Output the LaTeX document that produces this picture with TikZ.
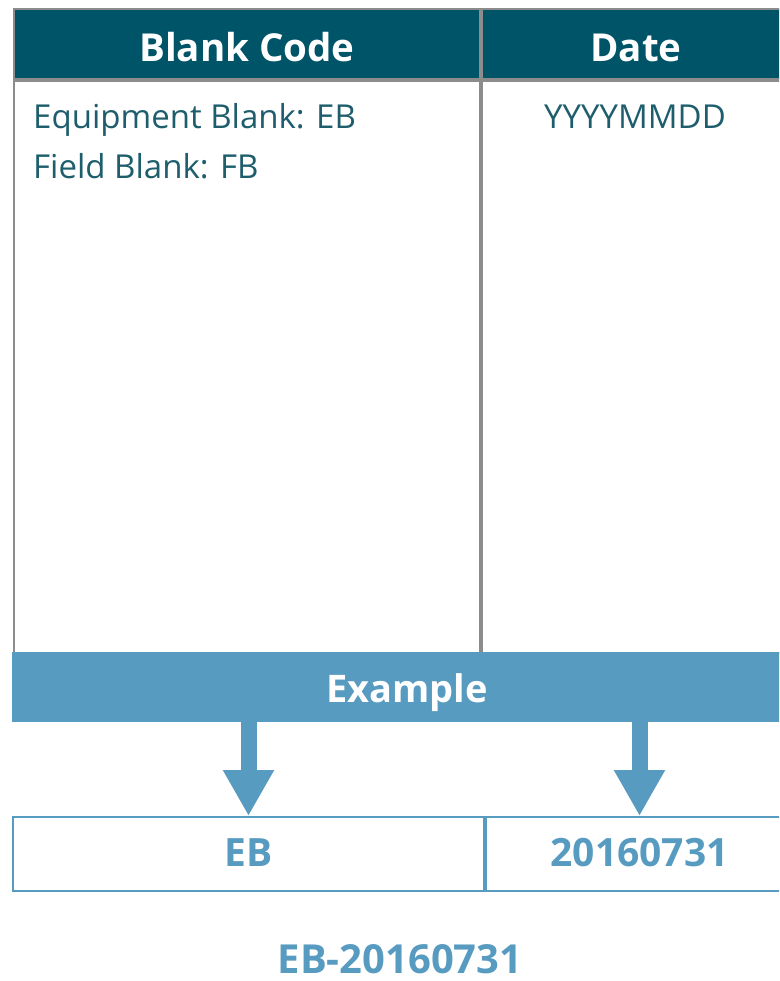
\documentclass[tikz,border=0pt]{standalone}
\usepackage{fontspec}
\setmainfont{Open Sans}
\usetikzlibrary{calc,positioning,arrows.meta}
\definecolor{headteal}{HTML}{005468}
\definecolor{exblue}{HTML}{589BC0}
\definecolor{bodytext}{HTML}{1E5E6C}
\definecolor{rulegray}{HTML}{8C8C8C}

\begin{document}
\begin{tikzpicture}[x=1pt,y=-1pt,
    headcell/.style={draw=rulegray, line width=2pt, fill=headteal, text=white,
      font=\fontsize{38.5}{46}\selectfont\bfseries, text height=36pt, text depth=0pt,
      minimum height=70pt, inner sep=0pt, anchor=north west},
    bodycell/.style={draw=rulegray, line width=2pt, minimum height=572pt, inner sep=0pt, anchor=north west},
    bodytxt/.style={text=bodytext, font=\fontsize{33}{40}\selectfont, inner sep=0pt},
    excell/.style={draw=exblue, line width=2pt, text=exblue,
      font=\fontsize{39}{46}\selectfont\bfseries, text height=24pt, text depth=0pt,
      minimum height=74pt, inner sep=0pt, anchor=north west},
    fatarrow/.style={draw=exblue, line width=16pt, -{Triangle[length=46pt,width=48pt]}}]
  \useasboundingbox (0,0) rectangle (779,981);
  \clip (0,0) rectangle (779,981);

  % table head
  \node[headcell, minimum width=466pt] (bchead) at (13,8) {Blank Code};
  \node[headcell, minimum width=308pt] (dthead) at (bchead.north east) {Date};

  % table body
  \node[bodycell, minimum width=466pt] (bcbody) at (bchead.south west) {};
  \node[bodycell, minimum width=308pt] (dtbody) at (bchead.south east) {};
  \node[bodytxt, anchor=base west] (eqblank) at ($(bcbody.north west)+(20,49)$) {Equipment Blank: EB};
  \node[bodytxt, anchor=base west] (fdblank) at ($(eqblank.base west)+(0,50)$) {Field Blank: FB};
  \node[bodytxt, anchor=base] (dtfmt) at ($(dtbody.north)+(-1,49)$) {YYYYMMDD};

  % example band
  \node[fill=exblue, text=white, font=\fontsize{38}{46}\selectfont\bfseries, text height=30pt, text depth=0pt,
    minimum width=790pt, minimum height=70pt, inner sep=0pt, anchor=north west] (exband) at (12,652) {Example};

  % example cells
  \node[excell, minimum width=471pt] (ebcell) at (12,816) {EB};
  \node[excell, minimum width=307pt] (dtcell) at (ebcell.north east) {20160731};

  % arrows
  \draw[fatarrow] (exband.south -| ebcell.north) -- (ebcell.north);
  \draw[fatarrow] (exband.south -| dtcell.north) -- (dtcell.north);

  % result
  \node[text=exblue, font=\fontsize{40}{48}\selectfont\bfseries, inner sep=0pt, anchor=base] (result) at (400,973) {EB-20160731};
\end{tikzpicture}
\end{document}
